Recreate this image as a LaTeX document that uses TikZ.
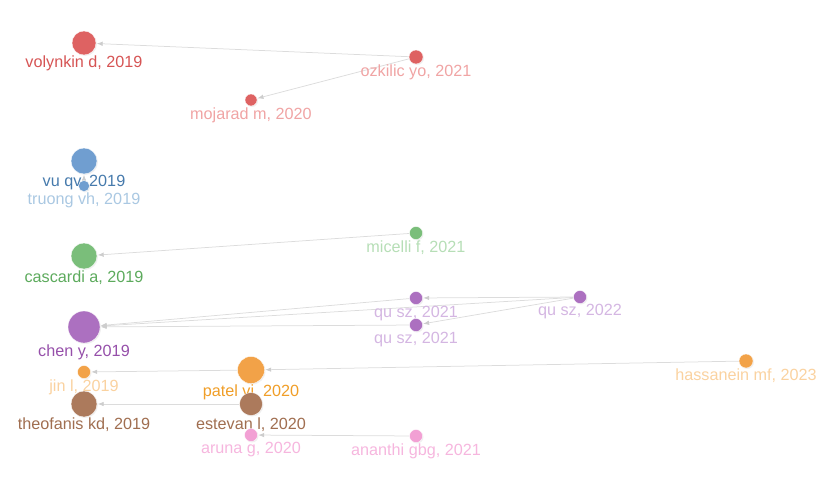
\documentclass[tikz,border=0pt]{standalone}
\usepackage{fontspec}
\setmainfont{Liberation Sans}
\usetikzlibrary{arrows.meta,shadows}
\definecolor{cRed}{RGB}{222,98,98}
\definecolor{cBlue}{RGB}{112,158,208}
\definecolor{cGreen}{RGB}{122,190,122}
\definecolor{cPurple}{RGB}{172,112,192}
\definecolor{cOrange}{RGB}{242,162,72}
\definecolor{cBrown}{RGB}{172,122,92}
\definecolor{cPink}{RGB}{242,160,212}
\definecolor{tRedD}{RGB}{214,84,84}
\definecolor{tRedL}{RGB}{240,164,164}
\definecolor{tBlueD}{RGB}{70,122,172}
\definecolor{tBlueL}{RGB}{170,200,226}
\definecolor{tGreenD}{RGB}{92,170,92}
\definecolor{tGreenL}{RGB}{182,222,182}
\definecolor{tPurpleD}{RGB}{150,80,170}
\definecolor{tPurpleL}{RGB}{212,182,226}
\definecolor{tOrangeD}{RGB}{240,158,40}
\definecolor{tOrangeL}{RGB}{250,210,160}
\definecolor{tBrownD}{RGB}{160,110,80}
\definecolor{tPinkL}{RGB}{246,182,222}
\definecolor{edgegray}{RGB}{220,220,220}
\definecolor{tipgray}{RGB}{205,205,205}
\tikzset{
  x=1pt, y=-1pt,
  circ/.style={circle, inner sep=0pt, draw=white, line width=0.3pt,
    drop shadow={opacity=0.12, shadow xshift=1pt, shadow yshift=-1pt}},
  lab/.style={inner sep=0pt, font=\fontsize{16.2}{17}\selectfont},
  edge/.style={draw=edgegray, line width=0.75pt, -{Latex[length=6pt,width=4.5pt,color=tipgray]}, shorten >=0.5pt},
}
\begin{document}
\begin{tikzpicture}
\useasboundingbox (0,0) rectangle (834,487);
% coordinates for node centres
\coordinate (pvol) at (84,43);
\coordinate (pozk) at (416,57);
\coordinate (pmoj) at (251,100);
\coordinate (pvu) at (84,161);
\coordinate (ptru) at (84,186);
\coordinate (pcas) at (84,256);
\coordinate (pmic) at (416,233);
\coordinate (pche) at (84,327);
\coordinate (pqa) at (416,298);
\coordinate (pqb) at (416,325);
\coordinate (pqc) at (580,297);
\coordinate (pjin) at (84,372);
\coordinate (ppat) at (251,370);
\coordinate (phas) at (746,361);
\coordinate (pthe) at (84,404);
\coordinate (pest) at (251,404);
\coordinate (paru) at (251,435);
\coordinate (pana) at (416,436);
% invisible node outlines used for edge ends
\begin{scope}[every node/.style={circle, inner sep=0pt}]
\node[minimum size=24pt] (vol) at (pvol) {};
\node[minimum size=14pt] (ozk) at (pozk) {};
\node[minimum size=12pt] (moj) at (pmoj) {};
\node[minimum size=26pt] (vu) at (pvu) {};
\node[minimum size=11pt] (tru) at (ptru) {};
\node[minimum size=26pt] (cas) at (pcas) {};
\node[minimum size=13pt] (mic) at (pmic) {};
\node[minimum size=32pt] (che) at (pche) {};
\node[minimum size=13pt] (qa) at (pqa) {};
\node[minimum size=13pt] (qb) at (pqb) {};
\node[minimum size=13pt] (qc) at (pqc) {};
\node[minimum size=13pt] (jin) at (pjin) {};
\node[minimum size=27pt] (pat) at (ppat) {};
\node[minimum size=14pt] (has) at (phas) {};
\node[minimum size=26pt] (the) at (pthe) {};
\node[minimum size=23pt] (est) at (pest) {};
\node[minimum size=13pt] (aru) at (paru) {};
\node[minimum size=13pt] (ana) at (pana) {};
\end{scope}
% edges
\draw[edge] (ozk) -- (vol);
\draw[edge] (ozk) -- (moj);
\draw[edge] (tru) -- (vu);
\draw[edge] (mic) -- (cas);
\draw[edge] (qa) -- (che);
\draw[edge] (qb) -- (che);
\draw[edge] (qc) -- (che);
\draw[edge] (qc) -- (qa);
\draw[edge] (qc) -- (qb);
\draw[edge] (has) -- (pat);
\draw[edge] (pat) -- (jin);
\draw[edge] (est) -- (the);
\draw[edge] (ana) -- (aru);
% labels
\node[lab, text=tRedD] (lvol) at (84,63) {volynkin d, 2019};
\node[lab, text=tRedL] (lozk) at (416,72) {ozkilic yo, 2021};
\node[lab, text=tRedL] (lmoj) at (251,115) {mojarad m, 2020};
\node[lab, text=tBlueD] (lvu) at (84,183) {vu qv, 2019};
\node[lab, text=tBlueL] (ltru) at (84,200) {truong vh, 2019};
\node[lab, text=tGreenD] (lcas) at (84,278) {cascardi a, 2019};
\node[lab, text=tGreenL] (lmic) at (416,248) {micelli f, 2021};
\node[lab, text=tPurpleD] (lche) at (84,352) {chen y, 2019};
\node[lab, text=tPurpleL] (lqa) at (416,314) {qu sz, 2021};
\node[lab, text=tPurpleL] (lqb) at (416,340) {qu sz, 2021};
\node[lab, text=tPurpleL] (lqc) at (580,312) {qu sz, 2022};
\node[lab, text=tOrangeL] (ljin) at (84,387) {jin l, 2019};
\node[lab, text=tOrangeD] (lpat) at (251,392) {patel vi, 2020};
\node[lab, text=tOrangeL] (lhas) at (746,376) {hassanein mf, 2023};
\node[lab, text=tBrownD] (lthe) at (84,425) {theofanis kd, 2019};
\node[lab, text=tBrownD] (lest) at (251,425) {estevan l, 2020};
\node[lab, text=tPinkL] (laru) at (251,450) {aruna g, 2020};
\node[lab, text=tPinkL] (lana) at (416,451) {ananthi gbg, 2021};
% circles
\foreach \p/\s/\c in {pvol/24/cRed, pozk/14/cRed, pmoj/12/cRed, pvu/26/cBlue, ptru/11/cBlue,
  pcas/26/cGreen, pmic/13/cGreen, pche/32/cPurple, pqa/13/cPurple, pqb/13/cPurple, pqc/13/cPurple,
  pjin/13/cOrange, ppat/27/cOrange, phas/14/cOrange, pthe/26/cBrown, pest/23/cBrown,
  paru/13/cPink, pana/13/cPink}
  \node[circ, fill=\c, minimum size=\s pt] at (\p) {};
\end{tikzpicture}
\end{document}
